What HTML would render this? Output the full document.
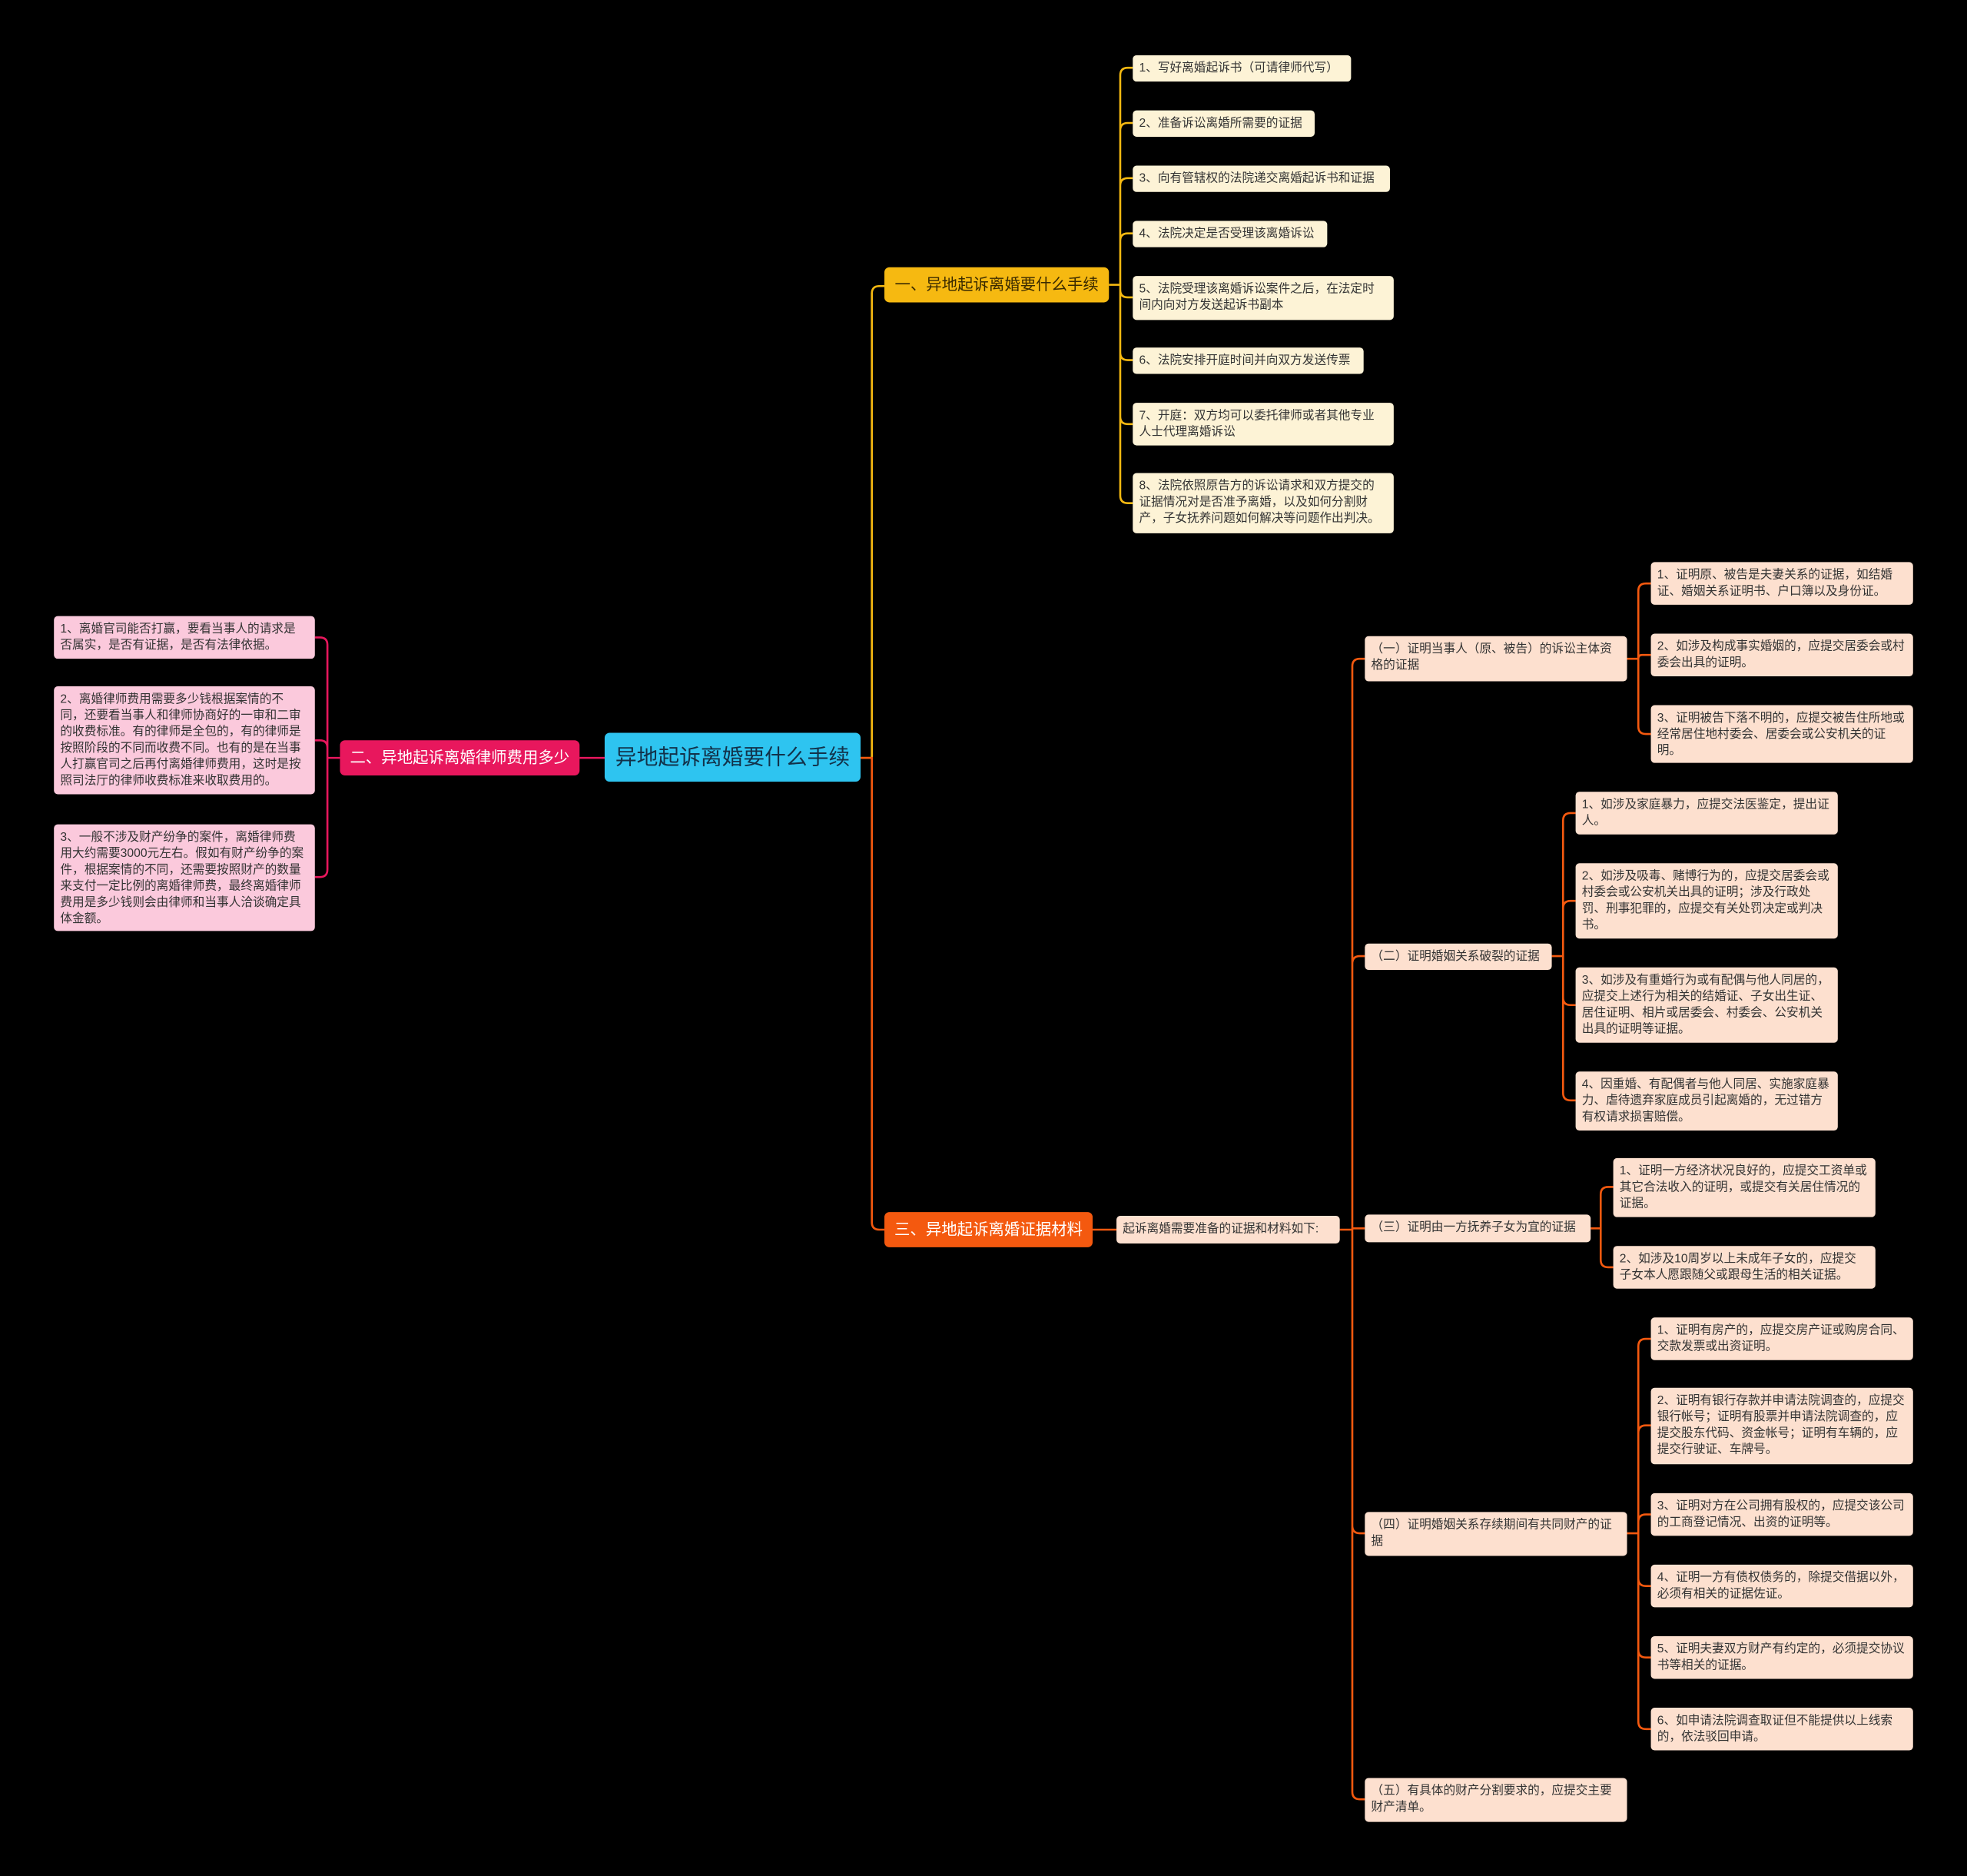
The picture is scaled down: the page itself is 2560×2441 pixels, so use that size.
<!DOCTYPE html>
<html><head><meta charset="utf-8">
<style>
html,body{margin:0;padding:0;background:#000;}
body{width:2560px;height:2441px;overflow:hidden;}
#w{position:absolute;left:0;top:0;width:1568px;height:1495px;transform:scale(1.63265);transform-origin:0 0;}
.n{position:absolute;box-sizing:border-box;border-radius:3px;font-family:"Liberation Sans","Noto Sans CJK SC",sans-serif;font-size:9.6px;line-height:13px;padding:4px 6px 4px 5px;color:#333;overflow:hidden;}
.s{white-space:nowrap;}
.y{background:#fdf3d6;}
.p{background:#fbc9dc;}
.o{background:#fde0cf;}
.b{display:flex;align-items:center;justify-content:center;font-size:12.5px;padding:0 6px;border-radius:4px;white-space:nowrap;}
svg{position:absolute;left:0;top:0;}
</style></head><body><div id="w">
<svg id="s" width="1568" height="1495"></svg>
<div class="n b" style="left:482px;top:584px;width:204px;height:39px;background:#2ec4f0;color:#12324a;font-size:17px;">异地起诉离婚要什么手续</div>
<div class="n b" style="left:705px;top:213px;width:179px;height:28px;background:#f6b911;color:#3a2a00;">一、异地起诉离婚要什么手续</div>
<div class="n b" style="left:271px;top:590px;width:191px;height:28px;background:#e8175d;color:#fff;">二、异地起诉离婚律师费用多少</div>
<div class="n b" style="left:705px;top:966px;width:166px;height:28px;background:#f4590f;color:#fff;">三、异地起诉离婚证据材料</div>

<div class="n y s" style="left:903px;top:44px;width:174px;height:21px;">1、写好离婚起诉书（可请律师代写）</div>
<div class="n y s" style="left:903px;top:88px;width:145px;height:21px;">2、准备诉讼离婚所需要的证据</div>
<div class="n y s" style="left:903px;top:132px;width:205px;height:21px;">3、向有管辖权的法院递交离婚起诉书和证据</div>
<div class="n y s" style="left:903px;top:176px;width:155px;height:21px;">4、法院决定是否受理该离婚诉讼</div>
<div class="n y" style="left:903px;top:220px;width:208px;height:35px;">5、法院受理该离婚诉讼案件之后，在法定时间内向对方发送起诉书副本</div>
<div class="n y s" style="left:903px;top:277px;width:184px;height:21px;">6、法院安排开庭时间并向双方发送传票</div>
<div class="n y" style="left:903px;top:321px;width:208px;height:34px;">7、开庭：双方均可以委托律师或者其他专业人士代理离婚诉讼</div>
<div class="n y" style="left:903px;top:377px;width:208px;height:48px;">8、法院依照原告方的诉讼请求和双方提交的证据情况对是否准予离婚，以及如何分割财产，子女抚养问题如何解决等问题作出判决。</div>

<div class="n p" style="left:43px;top:491px;width:208px;height:34px;">1、离婚官司能否打赢，要看当事人的请求是否属实，是否有证据，是否有法律依据。</div>
<div class="n p" style="left:43px;top:547px;width:208px;height:86px;">2、离婚律师费用需要多少钱根据案情的不同，还要看当事人和律师协商好的一审和二审的收费标准。有的律师是全包的，有的律师是按照阶段的不同而收费不同。也有的是在当事人打赢官司之后再付离婚律师费用，这时是按照司法厅的律师收费标准来收取费用的。</div>
<div class="n p" style="left:43px;top:657px;width:208px;height:85px;">3、一般不涉及财产纷争的案件，离婚律师费用大约需要3000元左右。假如有财产纷争的案件，根据案情的不同，还需要按照财产的数量来支付一定比例的离婚律师费，最终离婚律师费用是多少钱则会由律师和当事人洽谈确定具体金额。</div>

<div class="n o s" style="left:890px;top:969px;width:178px;height:22px;">起诉离婚需要准备的证据和材料如下:</div>
<div class="n o" style="left:1088px;top:507px;width:209px;height:36px;">（一）证明当事人（原、被告）的诉讼主体资格的证据</div>
<div class="n o s" style="left:1088px;top:752px;width:149px;height:21px;">（二）证明婚姻关系破裂的证据</div>
<div class="n o s" style="left:1088px;top:968px;width:180px;height:22px;">（三）证明由一方抚养子女为宜的证据</div>
<div class="n o" style="left:1088px;top:1205px;width:209px;height:35px;">（四）证明婚姻关系存续期间有共同财产的证据</div>
<div class="n o" style="left:1088px;top:1417px;width:209px;height:35px;">（五）有具体的财产分割要求的，应提交主要财产清单。</div>

<div class="n o" style="left:1316px;top:448px;width:209px;height:34px;">1、证明原、被告是夫妻关系的证据，如结婚证、婚姻关系证明书、户口簿以及身份证。</div>
<div class="n o" style="left:1316px;top:505px;width:209px;height:34px;">2、如涉及构成事实婚姻的，应提交居委会或村委会出具的证明。</div>
<div class="n o" style="left:1316px;top:562px;width:209px;height:46px;">3、证明被告下落不明的，应提交被告住所地或经常居住地村委会、居委会或公安机关的证明。</div>

<div class="n o" style="left:1256px;top:631px;width:209px;height:34px;">1、如涉及家庭暴力，应提交法医鉴定，提出证人。</div>
<div class="n o" style="left:1256px;top:688px;width:209px;height:60px;">2、如涉及吸毒、赌博行为的，应提交居委会或村委会或公安机关出具的证明；涉及行政处罚、刑事犯罪的，应提交有关处罚决定或判决书。</div>
<div class="n o" style="left:1256px;top:771px;width:209px;height:60px;">3、如涉及有重婚行为或有配偶与他人同居的，应提交上述行为相关的结婚证、子女出生证、居住证明、相片或居委会、村委会、公安机关出具的证明等证据。</div>
<div class="n o" style="left:1256px;top:854px;width:209px;height:47px;">4、因重婚、有配偶者与他人同居、实施家庭暴力、虐待遗弃家庭成员引起离婚的，无过错方有权请求损害赔偿。</div>

<div class="n o" style="left:1286px;top:923px;width:209px;height:47px;">1、证明一方经济状况良好的，应提交工资单或其它合法收入的证明，或提交有关居住情况的证据。</div>
<div class="n o" style="left:1286px;top:993px;width:209px;height:34px;">2、如涉及10周岁以上未成年子女的，应提交子女本人愿跟随父或跟母生活的相关证据。</div>

<div class="n o" style="left:1316px;top:1050px;width:209px;height:34px;">1、证明有房产的，应提交房产证或购房合同、交款发票或出资证明。</div>
<div class="n o" style="left:1316px;top:1106px;width:209px;height:61px;">2、证明有银行存款并申请法院调查的，应提交银行帐号；证明有股票并申请法院调查的，应提交股东代码、资金帐号；证明有车辆的，应提交行驶证、车牌号。</div>
<div class="n o" style="left:1316px;top:1190px;width:209px;height:34px;">3、证明对方在公司拥有股权的，应提交该公司的工商登记情况、出资的证明等。</div>
<div class="n o" style="left:1316px;top:1247px;width:209px;height:34px;">4、证明一方有债权债务的，除提交借据以外，必须有相关的证据佐证。</div>
<div class="n o" style="left:1316px;top:1304px;width:209px;height:34px;">5、证明夫妻双方财产有约定的，必须提交协议书等相关的证据。</div>
<div class="n o" style="left:1316px;top:1361px;width:209px;height:34px;">6、如申请法院调查取证但不能提供以上线索的，依法驳回申请。</div>
</div>
<script>
var s=document.getElementById('s'),P='';
function br(px,py,tx,cys,cx,col,left){
 var d='';
 cys.forEach(function(cy){
  var r=Math.min(6,Math.abs(cy-py));
  if(Math.abs(cy-py)<1){d+='M'+px+' '+py+'H'+cx;return;}
  var sg=cy>py?1:-1;
  if(left){
   d+='M'+px+' '+py+'H'+tx+'V'+(cy-sg*r)+'Q'+tx+' '+cy+' '+(tx-r)+' '+cy+'H'+cx;
  }else{
   d+='M'+px+' '+py+'H'+tx+'V'+(cy-sg*r)+'Q'+tx+' '+cy+' '+(tx+r)+' '+cy+'H'+cx;
  }
 });
 P+='<path d="'+d+'" fill="none" stroke="'+col+'" stroke-width="1.6"/>';
}
br(686,604,695,[228],705,'#f6b911');
br(686,604,695,[980],705,'#f4590f');
br(482,604,472,[604],462,'#e8175d',true);
br(884,227,893,[54,98,142,186,237,287,338,401],903,'#f6b911');
br(271,604,261,[508,590,699],251,'#e8175d',true);
br(871,980,890,[980],890,'#f4590f');
br(1068,980,1078,[525,762,979,1222,1434],1088,'#f4590f');
br(1297,525,1306,[465,522,585],1316,'#f4590f');
br(1237,762,1246,[648,718,801,877],1256,'#f4590f');
br(1268,979,1276,[946,1010],1286,'#f4590f');
br(1297,1222,1306,[1067,1136,1207,1264,1321,1378],1316,'#f4590f');
s.innerHTML=P;
</script>
</body></html>
